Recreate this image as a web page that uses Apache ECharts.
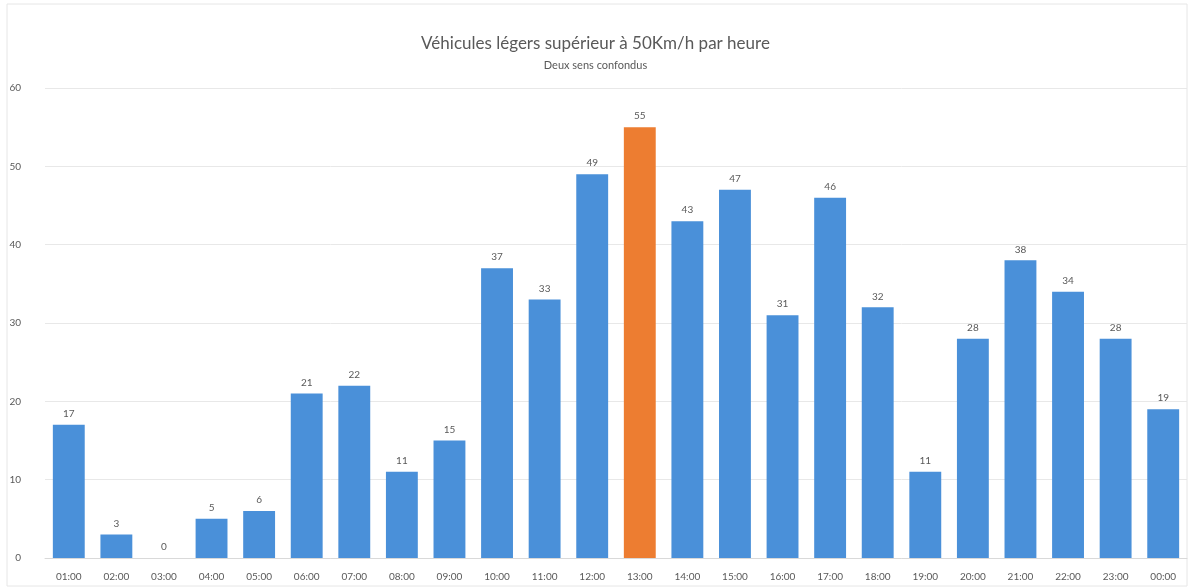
<!DOCTYPE html>
<html><head><meta charset="utf-8">
<script src="https://cdn.jsdelivr.net/npm/echarts@6/dist/echarts.min.js"></script>
<style>html,body{margin:0;padding:0;background:#fff}#c{width:1191px;height:588px}</style>
</head><body><div id="c"></div>
<script>
const categories = ["01:00","02:00","03:00","04:00","05:00","06:00","07:00","08:00","09:00","10:00","11:00","12:00","13:00","14:00","15:00","16:00","17:00","18:00","19:00","20:00","21:00","22:00","23:00","00:00"];
const values = [17,3,0,5,6,21,22,11,15,37,33,49,55,43,47,31,46,32,11,28,38,34,28,19];
const highlightCategory = "13:00";
const yTicks = {min:0, max:60, interval:10};

const chart = echarts.init(document.getElementById('c'));
const font = 'Lato, "Open Sans", sans-serif';
chart.setOption({
  animation:false,
  backgroundColor:'#fff',
  graphic:[{type:'rect',shape:{x:7,y:4,width:1180,height:582},style:{fill:'none',stroke:'#e6e6e6',lineWidth:1}}],
  title:{text:'Véhicules légers supérieur à 50Km/h par heure',subtext:'Deux sens confondus',left:'center',top:30,itemGap:8,
    textStyle:{fontFamily:font,fontSize:17,fontWeight:'normal',color:'#595959'},
    subtextStyle:{fontFamily:font,fontSize:11,color:'#595959'}},
  grid:{left:45,right:4,top:88,bottom:30},
  xAxis:{type:'category',data:categories,
    axisLine:{lineStyle:{color:'#d9d9d9'}},axisTick:{show:false},
    axisLabel:{color:'#595959',fontFamily:font,fontSize:10,margin:14}},
  yAxis:{type:'value',min:yTicks.min,max:yTicks.max,interval:yTicks.interval,
    axisLine:{show:false},axisTick:{show:false},
    splitLine:{lineStyle:{color:'#e8e8e8'}},
    axisLabel:{color:'#595959',fontFamily:font,fontSize:10,margin:24}},
  series:[{type:'bar',barCategoryGap:'33%',
    data:values.map((v,i)=>({value:v,itemStyle:{color:categories[i]===highlightCategory?'#ED7D31':'#4A90D9'}})),
    label:{show:true,position:'top',distance:6,color:'#595959',fontFamily:font,fontSize:10}}]
});
</script></body></html>
